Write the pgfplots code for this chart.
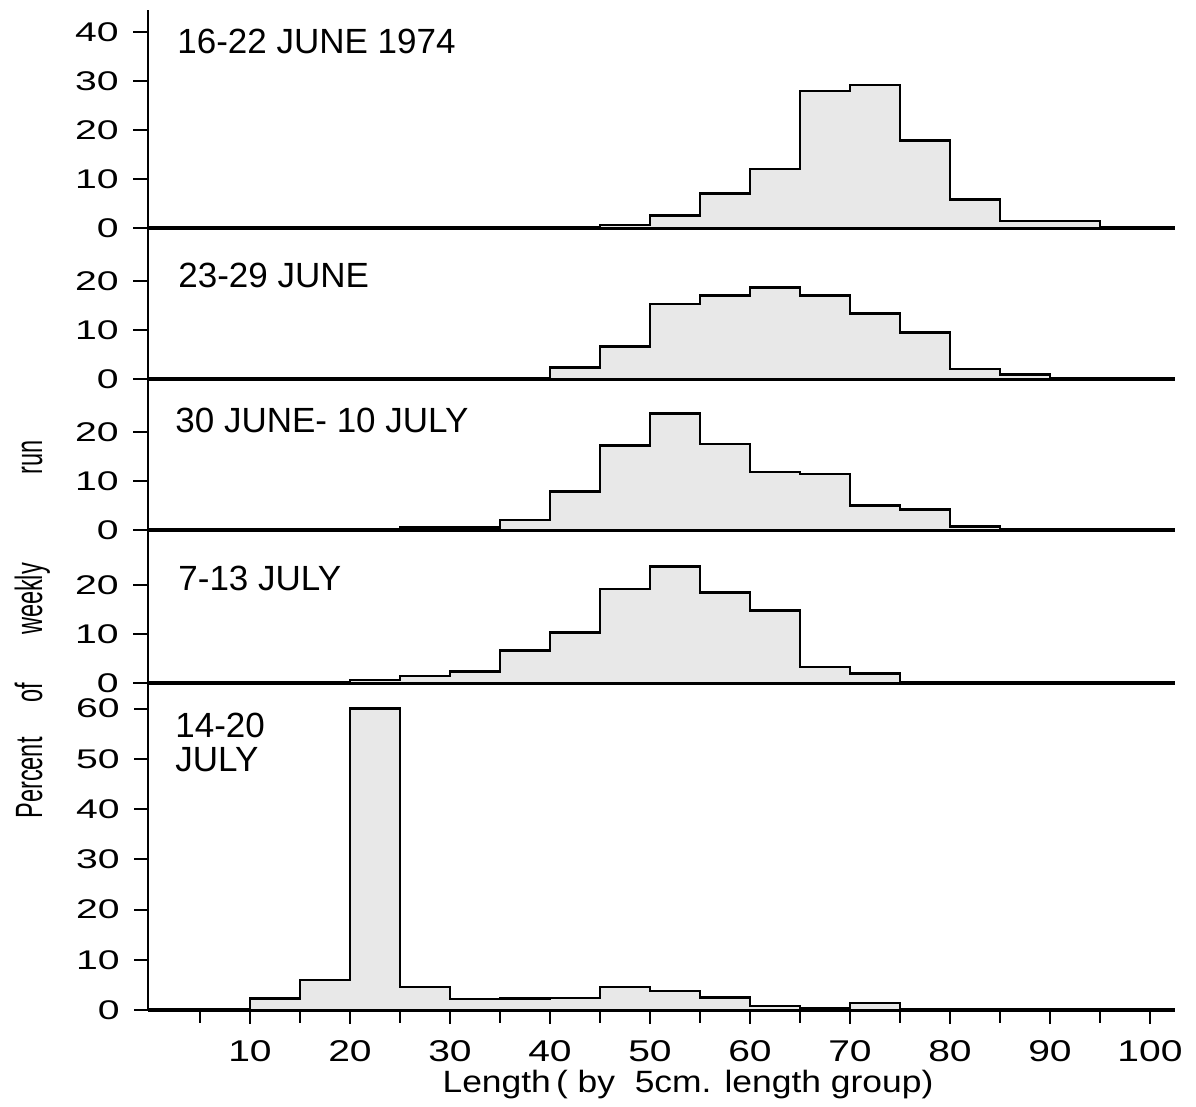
\documentclass[border=0pt]{standalone}
\usepackage{pgfplots}
\pgfplotsset{compat=1.18}
\usepackage{fontspec}
\setmainfont{Liberation Sans}
\newfontfamily\tickfont{Liberation Sans}[FakeStretch=1.45]
\newfontfamily\xtickfont{Liberation Sans}[FakeStretch=1.3]
\newfontfamily\labfont{Liberation Sans}[FakeStretch=1.15]
\newfontfamily\ylabfont{Liberation Sans}[FakeStretch=0.62]
\definecolor{barfill}{gray}{0.91}
\pgfplotsset{
  panel/.style={
    scale only axis, width=513.5pt, xmin=-0.2, xmax=102.5,
    clip=false,
    axis x line=bottom, axis y line=left,
    x axis line style={-, line width=2pt},
    y axis line style={-, line width=1pt},
    tick align=outside,
    major tick length=7.5pt,
    every tick/.style={black, line width=1pt},
    xtick=\empty,
    anchor=south west,
    /pgf/number format/assume math mode=true,
    yticklabel style={font=\tickfont\fontsize{13.5}{13.5}\selectfont, inner sep=1pt, xshift=-6pt},
  },
  hist/.style={const plot, fill=barfill, draw=black, line width=1.3pt},
}
\begin{document}
\begin{tikzpicture}[x=1pt,y=1pt]
\useasboundingbox (0,0) rectangle (598,553.5);

% Panel 1: 16-22 June 1974
\begin{axis}[panel, at={(74pt,439.5pt)}, height=109pt, ymin=0, ymax=44.5, ytick={0,10,20,30,40}]
\addplot[hist] coordinates {(45,0.6) (50,2.6) (55,7) (60,12) (65,28) (70,29.2) (75,17.8) (80,5.8) (85,1.4) (90,1.4) (95,1.4)} \closedcycle;
\end{axis}

% Panel 2: 23-29 June
\begin{axis}[panel, at={(74pt,364pt)}, height=75.5pt, ymin=0, ymax=30.8, ytick={0,10,20}]
\addplot[hist] coordinates {(40,2.3) (45,6.6) (50,15.3) (55,17) (60,18.6) (65,17) (70,13.4) (75,9.5) (80,2) (85,0.9) (90,0.9)} \closedcycle;
\end{axis}

% Panel 3: 30 June - 10 July
\begin{axis}[panel, at={(74pt,288.5pt)}, height=75.5pt, ymin=0, ymax=30.8, ytick={0,10,20}]
\addplot[hist] coordinates {(25,0.5) (30,0.5) (35,2) (40,7.8) (45,17.2) (50,23.8) (55,17.5) (60,11.8) (65,11.4) (70,5) (75,4.2) (80,0.7) (85,0.7)} \closedcycle;
\end{axis}

% Panel 4: 7-13 July
\begin{axis}[panel, at={(74pt,212pt)}, height=76.5pt, ymin=0, ymax=31.2, ytick={0,10,20}]
\addplot[hist] coordinates {(20,0.6) (25,1.4) (30,2.4) (35,6.6) (40,10.3) (45,19.2) (50,23.8) (55,18.5) (60,14.8) (65,3.3) (70,1.9) (75,1.9)} \closedcycle;
\end{axis}

% Panel 5: 14-20 July
\begin{axis}[panel, at={(74pt,48.5pt)}, height=163.5pt, ymin=0, ymax=65.1,
  ytick={0,10,20,30,40,50,60},
  xtick={10,20,...,100}, minor xtick={5,15,...,95},
  minor tick length=6.5pt, major tick length=7pt,
  xtick style={black, line width=1pt},
  xticklabel style={font=\xtickfont\fontsize{15}{15}\selectfont, inner sep=1pt, yshift=-7pt}]
\addplot[hist] coordinates {(10,2.3) (15,6) (20,60) (25,4.6) (30,2.2) (35,2.3) (40,2.4) (45,4.6) (50,3.8) (55,2.5) (60,0.8) (65,0.4) (70,1.4) (75,1.4)} \closedcycle;
\end{axis}

% Panel titles
\begin{scope}[every node/.style={inner sep=0pt, anchor=north west, font=\fontsize{17.5}{19}\selectfont}]
\node at (88.5,539) {16-22 JUNE 1974};
\node at (89,422) {23-29 JUNE};
\node at (87.5,349.5) {30 JUNE- 10 JULY};
\node at (89,270.5) {7-13 JULY};
\node at (87.5,197) {14-20};
\node at (87.5,180) {JULY};
\end{scope}

% Axis labels
\node[anchor=base, inner sep=0pt, font=\labfont\fontsize{15.4}{17}\selectfont] at (344,7) {Length\,( by\ \ 5cm. length group)};
\begin{scope}[every node/.style={rotate=90, anchor=base, inner sep=0pt, font=\ylabfont\fontsize{19}{21}\selectfont}]
\node at (21,553.5-778/2) {Percent};
\node at (21,553.5-693/2) {of};
\node at (21,553.5-599/2) {weekly};
\node at (21,553.5-457/2) {run};
\end{scope}
\end{tikzpicture}
\end{document}
